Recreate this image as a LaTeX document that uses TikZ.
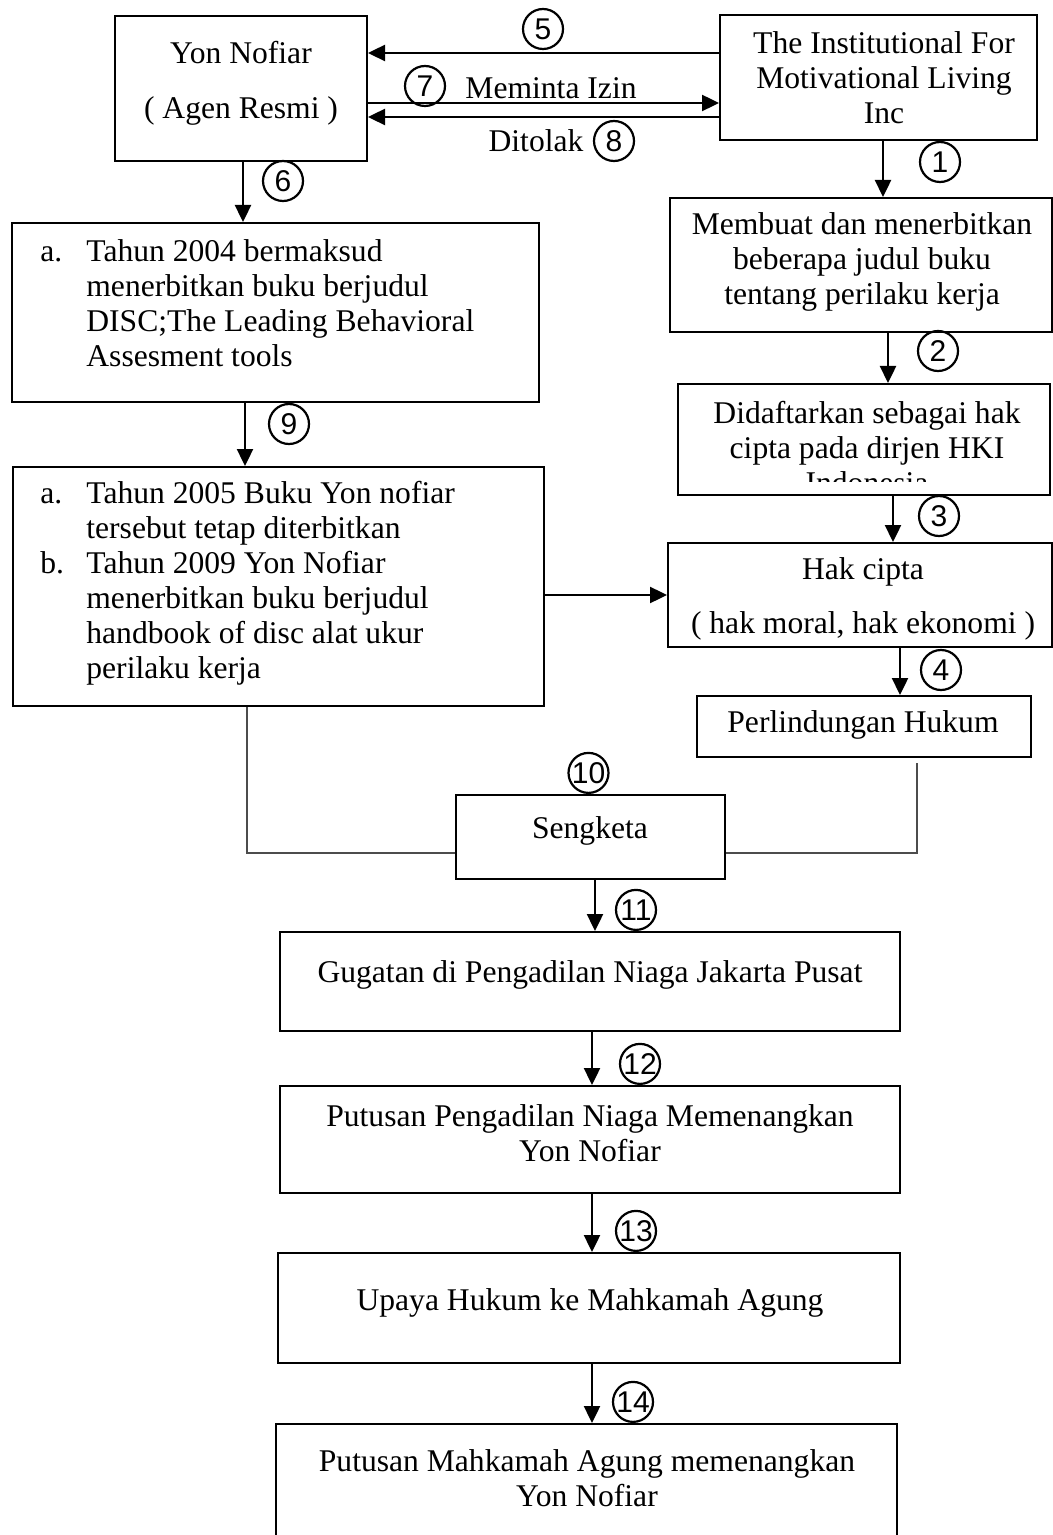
\documentclass[tikz,border=0pt]{standalone}
\usepackage{fontspec}
\setmainfont{Liberation Serif}
\newfontfamily\numfont{Liberation Sans}
\usetikzlibrary{arrows.meta,positioning,fit}
\tikzset{
  box/.style={draw, line width=1pt, inner sep=0pt},
  txt/.style={font=\fontsize{15.8}{17.5}\selectfont, align=center, inner sep=0pt, yshift=-1.5pt},
  listtxt/.style={font=\fontsize{15.8}{17.5}\selectfont, inner sep=0pt, anchor=base west},
  num/.style={circle, draw, line width=1.1pt, minimum size=20pt, inner sep=0pt, font=\numfont\fontsize{15}{15}\selectfont},
  arrow/.style={-{Triangle[width=8pt,length=8.5pt]}, line width=1.2pt},
  link/.style={draw=black!70, line width=0.7pt},
}

\begin{document}
\begin{tikzpicture}[x=0.5pt, y=-0.5pt]
  \useasboundingbox (0,0) rectangle (1053,1535);
  \clip (0,0) rectangle (1053,1535);

  % boxes, left column
  \node[box, fit={(115,16) (367,161)}] (yon) {};
  \node[box, fit={(12,223) (539,402)}] (thn04) {};
  \node[box, fit={(13,467) (544,706)}] (thn05) {};
  % boxes, right column
  \node[box, fit={(720,15) (1037,140)}] (inst) {};
  \node[box, fit={(670,198) (1052,332)}] (buat) {};
  \node[box, fit={(678,384) (1050,495)}] (daftar) {};
  \node[box, fit={(668,543) (1052,647)}] (hak) {};
  \node[box, fit={(697,696) (1031,757)}] (lindung) {};
  % boxes, middle column
  \node[box, fit={(456,795) (725,879)}] (sengketa) {};
  \node[box, fit={(280,932) (900,1031)}] (gugat) {};
  \node[box, fit={(280,1086) (900,1193)}] (putus) {};
  \node[box, fit={(278,1253) (900,1363)}] (upaya) {};
  \node[box, fit={(276,1424) (897,1580)}] (ma) {};

  % texts
  \node[txt] (yon-t) at (241,80) {Yon Nofiar\\[10pt]( Agen Resmi )};
  \node[txt] (inst-t) at (884,75) {The Institutional For\\Motivational Living\\Inc};
  \node[txt] (buat-t) at (862,259) {Membuat dan menerbitkan\\beberapa judul buku\\tentang perilaku kerja};
  \begin{scope}
    \clip (daftar.north west) rectangle (daftar.east |- 0,481);
    \node[txt] (daftar-t) at (867,445) {Didaftarkan sebagai hak\\cipta pada dirjen HKI\\Indonesia};
  \end{scope}
  \node[txt] (hak-t) at (863,596) {Hak cipta\\[9.5pt]( hak moral, hak ekonomi )};
  \node[txt] (lindung-t) at (863,722) {Perlindungan Hukum};
  \node[listtxt] (thn04-t) at (40,262) {\begin{tabular}[t]{@{}p{23pt}@{}l@{}}
    a. & Tahun 2004 bermaksud\\
       & menerbitkan buku berjudul\\
       & DISC;The Leading Behavioral\\
       & Assesment tools
  \end{tabular}};
  \node[listtxt] (thn05-t) at (40,503) {\begin{tabular}[t]{@{}p{23pt}@{}l@{}}
    a. & Tahun 2005 Buku Yon nofiar\\
       & tersebut tetap diterbitkan\\
    b. & Tahun 2009 Yon Nofiar\\
       & menerbitkan buku berjudul\\
       & handbook of disc alat ukur\\
       & perilaku kerja
  \end{tabular}};
  \node[txt] (sengketa-t) at (590,828) {Sengketa};
  \node[txt] (gugat-t) at (590,972) {Gugatan di Pengadilan Niaga Jakarta Pusat};
  \node[txt] (putus-t) at (590,1130) {Putusan Pengadilan Niaga Memenangkan\\Yon Nofiar};
  \node[txt] (upaya-t) at (590,1300) {Upaya Hukum ke Mahkamah Agung};
  \node[txt] (ma-t) at (587,1475) {Putusan Mahkamah Agung memenangkan\\Yon Nofiar};
  \node[txt] (izin) at (551,85) {Meminta Izin};
  \node[txt] (tolak) at (536,138) {Ditolak};

  % step numbers
  \node[num] (n1) at (940,162) {1};
  \node[num] (n2) at (938,351) {2};
  \node[num] (n3) at (939,516) {3};
  \node[num] (n4) at (941,670) {4};
  \node[num] (n5) at (543,29) {5};
  \node[num] (n6) at (283,181) {6};
  \node[num] (n7) at (425,86) {7};
  \node[num] (n8) at (614,141) {8};
  \node[num] (n9) at (289,424) {9};
  \node[num, above=0pt of sengketa.north, xshift=-1pt] (n10) {10};
  \node[num, above=0pt of gugat.north, xshift=23pt] (n11) {11};
  \node[num, above=0pt of putus.north, xshift=25pt] (n12) {12};
  \node[num, above=0pt of upaya.north, xshift=23.5pt] (n13) {13};
  \node[num, above=0pt of ma.north, xshift=23.25pt] (n14) {14};

  % between the agent and the publisher
  \draw[arrow] (inst.west |- 0,53) -- (yon.east |- 0,53);
  \draw[arrow] (yon.east |- 0,103) -- (inst.west |- 0,103);
  \draw[arrow] (inst.west |- 0,117) -- (yon.east |- 0,117);

  % left flow
  \draw[arrow] (yon.south -| 243,0) -- (thn04.north -| 243,0);
  \draw[arrow] (thn04.south -| 245,0) -- (thn05.north -| 245,0);
  \draw[arrow] (thn05.east |- hak.west) -- (hak.west);

  % right flow
  \draw[arrow] (inst.south -| 883,0) -- (buat.north -| 883,0);
  \draw[arrow] (buat.south -| 888,0) -- (daftar.north -| 888,0);
  \draw[arrow] (daftar.south -| 893,0) -- (hak.north -| 893,0);
  \draw[arrow] (hak.south -| 900,0) -- (lindung.north -| 900,0);

  % dispute
  \draw[link] (thn05.south -| 247,0) |- (sengketa.west |- 0,853);
  \draw[link, shorten <=2.5pt] (lindung.south -| 917,0) |- (sengketa.east |- 0,853);

  % court
  \draw[arrow] (sengketa.south -| 595,0) -- (gugat.north -| 595,0);
  \draw[arrow] (gugat.south -| 592,0) -- (putus.north -| 592,0);
  \draw[arrow] (putus.south -| 592,0) -- (upaya.north -| 592,0);
  \draw[arrow] (upaya.south -| 592,0) -- (ma.north -| 592,0);
\end{tikzpicture}
\end{document}
